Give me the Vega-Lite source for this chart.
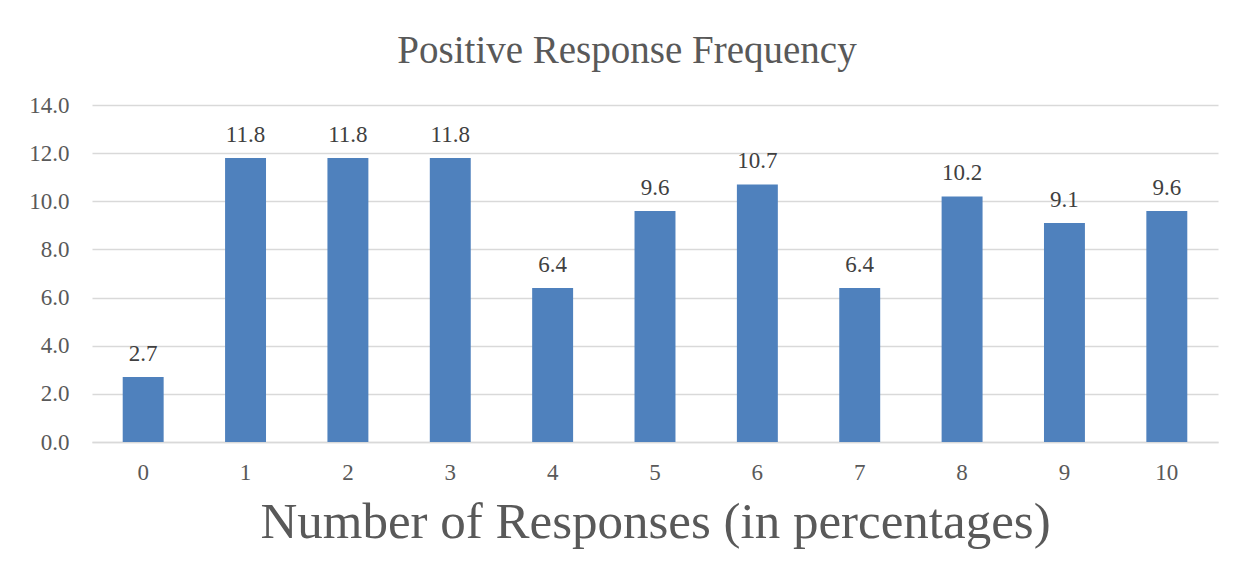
{
  "$schema": "https://vega.github.io/schema/vega-lite/v6.json",
  "width": 1126,
  "height": 337,
  "autosize": {"type": "none"},
  "padding": {"left": 92, "top": 105, "right": 23, "bottom": 135},
  "background": "white",
  "title": {
    "text": "Positive Response Frequency",
    "font": "Liberation Serif",
    "fontSize": 39,
    "fontWeight": "normal",
    "color": "#595959",
    "anchor": "middle",
    "dx": -28,
    "offset": 23
  },
  "data": {
    "values": [
      {"responses": "0", "pct": 2.7},
      {"responses": "1", "pct": 11.8},
      {"responses": "2", "pct": 11.8},
      {"responses": "3", "pct": 11.8},
      {"responses": "4", "pct": 6.4},
      {"responses": "5", "pct": 9.6},
      {"responses": "6", "pct": 10.7},
      {"responses": "7", "pct": 6.4},
      {"responses": "8", "pct": 10.2},
      {"responses": "9", "pct": 9.1},
      {"responses": "10", "pct": 9.6}
    ]
  },
  "encoding": {
    "x": {
      "field": "responses",
      "type": "ordinal",
      "sort": null,
      "scale": {"paddingInner": 0.6, "paddingOuter": 0.3},
      "axis": {
        "title": "Number of Responses (in percentages)",
        "titleFont": "Liberation Serif",
        "titleFontSize": 51,
        "titleFontWeight": "normal",
        "titleColor": "#595959",
        "titlePadding": 13,
        "labelAngle": 0,
        "labelFont": "Liberation Serif",
        "labelFontSize": 23,
        "labelColor": "#595959",
        "labelPadding": 19,
        "ticks": false,
        "domainColor": "#d9d9d9",
        "domainWidth": 1.5
      }
    },
    "y": {
      "field": "pct",
      "type": "quantitative",
      "scale": {"domain": [0, 14]},
      "axis": {
        "title": null,
        "values": [0, 2, 4, 6, 8, 10, 12, 14],
        "format": ".1f",
        "labelFont": "Liberation Serif",
        "labelFontSize": 23,
        "labelColor": "#595959",
        "labelPadding": 23,
        "ticks": false,
        "domain": false,
        "gridColor": "#d9d9d9",
        "gridWidth": 1.5
      }
    }
  },
  "layer": [
    {"mark": {"type": "bar", "color": "#4f81bd"}},
    {
      "mark": {
        "type": "text",
        "font": "Liberation Serif",
        "fontSize": 23,
        "color": "#404040",
        "baseline": "alphabetic",
        "dy": -16
      },
      "encoding": {"text": {"field": "pct", "type": "quantitative", "format": ".1f"}}
    }
  ],
  "config": {"view": {"stroke": null}}
}
